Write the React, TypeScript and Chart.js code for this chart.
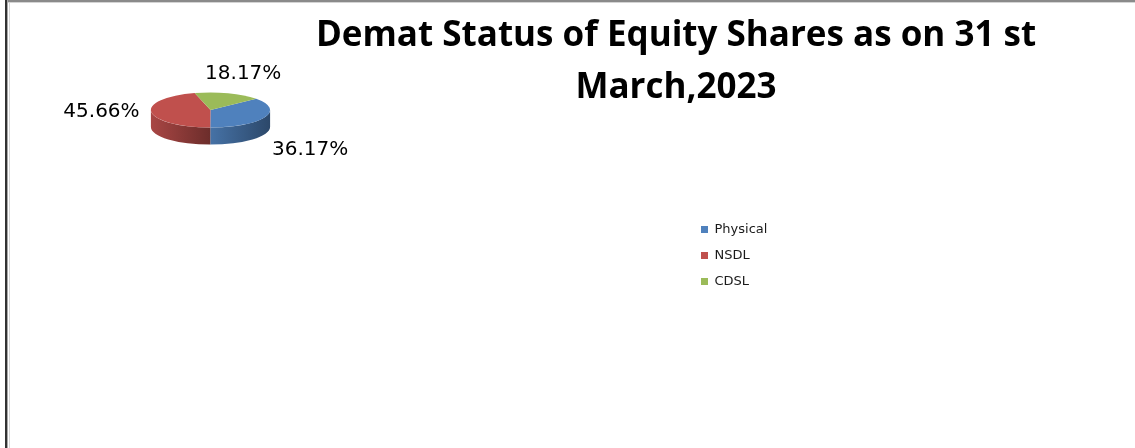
import React, { useEffect, useRef } from 'react';
import { Chart, registerables } from 'chart.js';

Chart.register(...registerables);

// ---- data ----
const categories = ['Physical', 'NSDL', 'CDSL'];
const shares = [36.17, 45.66, 18.17];
const sliceColors = ['#4F81BD', '#C0504D', '#9BBB59'];
const titleLines = ['Demat Status of Equity Shares as on 31 st', 'March,2023'];

// ---- geometry / style (not data) ----
const PIE = { cx: 210.5, cy: 110, rx: 59.6, ry: 17.6, depth: 17, rotationDeg: 50 };
const LABEL = { lx: 110, ly: 30, below: 5.5 };
const LEGEND_POS = { left: 688, top: 210 };

function shade(hex: string, f: number): string {
  const n = parseInt(hex.slice(1), 16);
  const r = Math.round(((n >> 16) & 255) * f);
  const g = Math.round(((n >> 8) & 255) * f);
  const b = Math.round((n & 255) * f);
  return `rgb(${r},${g},${b})`;
}

const framePlugin = {
  id: 'frame',
  beforeDraw(chart: any) {
    const ctx = chart.ctx;
    const w = chart.width;
    const h = chart.height;
    ctx.save();
    ctx.fillStyle = '#8a8a8a';
    ctx.fillRect(7, 0, w - 7, 2);
    ctx.fillStyle = '#d4d4d4';
    ctx.fillRect(8, 2, w - 8, 1);
    ctx.fillStyle = '#333333';
    ctx.fillRect(5, 0, 2, h);
    ctx.fillStyle = '#a8a8a8';
    ctx.fillRect(7, 0, 1, h);
    ctx.fillStyle = '#d8d8d8';
    ctx.fillRect(9, 3, 1, h - 3);
    ctx.restore();
  },
};

const legendPlacePlugin = {
  id: 'legendPlace',
  afterLayout(chart: any) {
    const lg = chart.legend;
    if (!lg) return;
    const w = lg.width;
    const h = lg.height;
    lg.left = LEGEND_POS.left;
    lg.right = LEGEND_POS.left + w;
    lg.top = LEGEND_POS.top;
    lg.bottom = LEGEND_POS.top + h;
  },
};

const pie3dPlugin = {
  id: 'pie3d',
  beforeDatasetsDraw(chart: any) {
    const meta = chart.getDatasetMeta(0);
    const ctx = chart.ctx;
    const { cx, cy, rx, ry, depth } = PIE;
    ctx.save();
    meta.data.forEach((arc: any, i: number) => {
      const { startAngle, endAngle } = arc.getProps(['startAngle', 'endAngle'], true);
      for (let k = -2; k <= 2; k++) {
        const lo = Math.max(startAngle, 2 * Math.PI * k);
        const hi = Math.min(endAngle, 2 * Math.PI * k + Math.PI);
        if (hi > lo) {
          const xa = cx + rx * Math.cos(lo);
          const xb = cx + rx * Math.cos(hi);
          const x0 = Math.min(xa, xb);
          const x1 = Math.max(xa, xb);
          const grad = ctx.createLinearGradient(x0, 0, x1 + 0.01, 0);
          grad.addColorStop(0, shade(sliceColors[i], 0.88));
          grad.addColorStop(1, shade(sliceColors[i], 0.56));
          ctx.beginPath();
          ctx.ellipse(cx, cy, rx, ry, 0, lo, hi, false);
          ctx.ellipse(cx, cy + depth, rx, ry, 0, hi, lo, true);
          ctx.closePath();
          ctx.fillStyle = grad;
          ctx.fill();
        }
      }
    });
    ctx.restore();
    // squash the top face into an ellipse at the pie position
    const first = meta.data[0];
    ctx.save();
    ctx.translate(cx, cy);
    ctx.scale(1, ry / rx);
    ctx.translate(-first.x, -first.y);
  },
  afterDatasetsDraw(chart: any) {
    const ctx = chart.ctx;
    ctx.restore();
    const meta = chart.getDatasetMeta(0);
    const { cx, cy, ry, depth } = PIE;
    ctx.save();
    ctx.font = '20px "DejaVu Sans"';
    ctx.fillStyle = '#000';
    ctx.textAlign = 'center';
    ctx.textBaseline = 'middle';
    meta.data.forEach((arc: any, i: number) => {
      const { startAngle, endAngle } = arc.getProps(['startAngle', 'endAngle'], true);
      const mid = (startAngle + endAngle) / 2;
      const c = Math.cos(mid);
      const s = Math.sin(mid);
      const x = cx + LABEL.lx * c;
      // labels for slices facing the viewer sit below the pie's side wall,
      // the others sit above / beside the top face
      const y = s > 0.25 ? cy + ry + depth + LABEL.below : cy + LABEL.ly * s - 6 * Math.max(0, -s) - 2;
      ctx.fillText(shares[i].toFixed(2) + '%', x, y);
    });
    ctx.restore();
  },
};

export default function App() {
  const canvasRef = useRef<HTMLCanvasElement | null>(null);

  useEffect(() => {
    const canvas = canvasRef.current;
    if (!canvas) return;
    const chart = new Chart(canvas, {
      type: 'pie',
      data: {
        labels: categories,
        datasets: [
          {
            data: shares,
            backgroundColor: sliceColors,
            borderWidth: 0,
            radius: PIE.rx,
          } as any,
        ],
      },
      options: {
        responsive: false,
        animation: false,
        rotation: PIE.rotationDeg,
        layout: { padding: { left: 217, right: 0, top: 0, bottom: 0 } },
        plugins: {
          title: {
            display: true,
            text: titleLines,
            color: '#000',
            align: 'center',
            font: { family: '"Open Sans"', weight: 'bold', size: 35, lineHeight: '52px' as any },
            padding: { top: 10, bottom: 0 },
          },
          legend: {
            display: true,
            position: 'right',
            align: 'start',
            labels: {
              boxWidth: 7,
              boxHeight: 7,
              padding: 13,
              color: '#1a1a1a',
              font: { family: '"DejaVu Sans"', size: 13 },
            },
          },
          tooltip: { enabled: false },
        },
        events: [],
      },
      plugins: [framePlugin, legendPlacePlugin, pie3dPlugin],
    });
    return () => chart.destroy();
  }, []);

  return (
    <div style={{ position: 'fixed', left: 0, top: 0, width: 1135, height: 448, background: '#fff' }}>
      <canvas ref={canvasRef} width={1135} height={448} style={{ width: 1135, height: 448, display: 'block' }} />
    </div>
  );
}
